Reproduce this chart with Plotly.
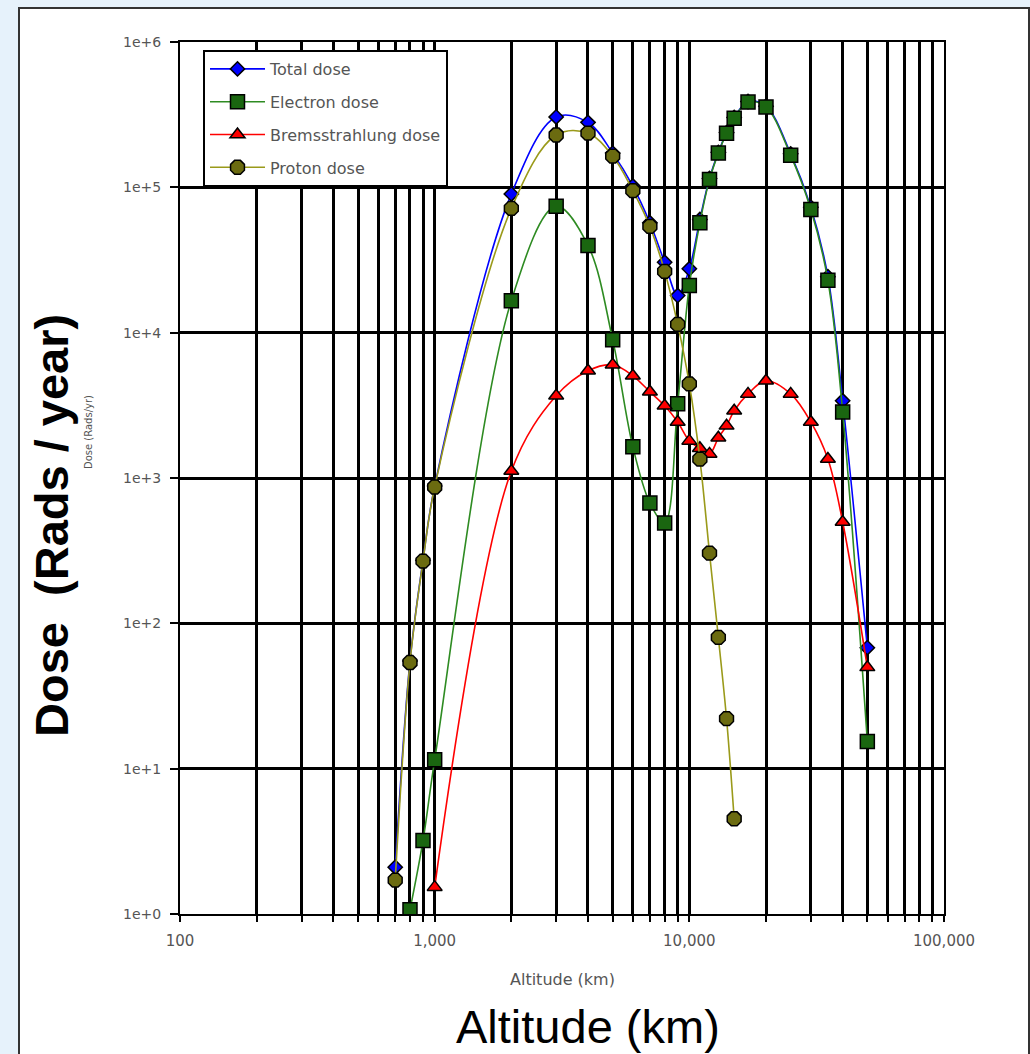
import plotly.graph_objects as go

# ---- data ----
total_x = [700, 800, 900, 1000, 2000, 3000, 4000, 5000, 6000, 7000, 8000, 9000, 10000,
           11000, 12000, 13000, 14000, 15000, 17000, 20000, 25000, 30000, 35000, 40000, 50000]
total_y = [2.1, 55, 272, 880, 90000, 305000, 280000, 172000, 102000, 57000, 30500, 18000, 27500,
           60000, 115000, 174000, 238000, 302000, 390000, 362000, 170000, 73000, 24300, 3400, 68]

electron_x = [800, 900, 1000, 2000, 3000, 4000, 5000, 6000, 7000, 8000, 9000, 10000,
              11000, 12000, 13000, 14000, 15000, 17000, 20000, 25000, 30000, 35000, 40000, 50000]
electron_y = [1.07, 3.2, 11.5, 16600, 74000, 39800, 8950, 1640, 673, 490, 3240, 21100,
              57000, 113000, 172000, 236000, 299000, 386000, 357000, 166000, 70500, 22900, 2850, 15.4]

brems_x = [1000, 2000, 3000, 4000, 5000, 6000, 7000, 8000, 9000, 10000, 11000, 12000,
           13000, 14000, 15000, 17000, 20000, 25000, 30000, 35000, 40000, 50000]
brems_y = [1.53, 1117, 3680, 5470, 6010, 5050, 3920, 3140, 2430, 1800, 1600, 1465,
           1890, 2285, 2900, 3790, 4670, 3790, 2430, 1350, 498, 49.8]

proton_x = [700, 800, 900, 1000, 2000, 3000, 4000, 5000, 6000, 7000, 8000, 9000, 10000,
            11000, 12000, 13000, 14000, 15000]
proton_y = [1.71, 53.8, 268, 867, 71600, 229000, 236000, 164000, 95000, 53900, 26400, 11400, 4440,
            1350, 304, 80, 22.1, 4.52]

x_tick_vals = [k * 10 ** n for n in (2, 3, 4) for k in range(1, 10)] + [100000]
x_tick_text = ["100" if v == 100 else "1,000" if v == 1000 else "10,000" if v == 10000
               else "100,000" if v == 100000 else "" for v in x_tick_vals]
y_tick_vals = [1, 10, 100, 1000, 10000, 100000, 1000000]
y_tick_text = ["1e+0", "1e+1", "1e+2", "1e+3", "1e+4", "1e+5", "1e+6"]

FONT = "Liberation Sans, Arial, sans-serif"
SMALL = "DejaVu Sans, Verdana, sans-serif"

fig = go.Figure()

def add(name, xs, ys, lcol, mcol, sym, size, grp):
    fig.add_trace(go.Scatter(
        x=xs, y=ys, name=name, mode="lines+markers", legendgroup=grp,
        line=dict(color=lcol, width=1.6, shape="spline", smoothing=1.0),
        marker=dict(symbol=sym, size=size, color=mcol, line=dict(color="black", width=1.5)),
    ))

add("Total dose", total_x, total_y, "#0000ff", "#0000ff", "diamond", 11, "a")
add("Electron dose", electron_x, electron_y, "#2e8b22", "#1a6610", "square", 14, "b")
add("Bremsstrahlung dose", brems_x, brems_y, "#ff0000", "#ff0000", "triangle-up", 13, "c")
add("Proton dose", proton_x, proton_y, "#9a9a1a", "#6b6b10", "octagon", 15, "d")

L, R, T, B = 180, 944, 42, 914
PW, PH = R - L, B - T

def px(p):
    return (p - L) / PW

def py(p):
    return (B - p) / PH

fig.update_layout(
    width=1030, height=1054,
    margin=dict(l=L, r=1030 - R, t=T, b=1054 - B, autoexpand=False),
    paper_bgcolor="#e6f2fb",
    plot_bgcolor="white",
    font=dict(family=SMALL, color="#555555", size=12),
    showlegend=True,
    legend=dict(
        x=px(203), y=py(50), xanchor="left", yanchor="top",
        bgcolor="white", bordercolor="black", borderwidth=2,
        font=dict(size=16, color="#555555", family=SMALL),
        traceorder="grouped", tracegroupgap=9, itemwidth=55,
    ),
    xaxis=dict(
        type="log", range=[2, 5], tickvals=x_tick_vals, ticktext=x_tick_text,
        showgrid=True, gridcolor="black", gridwidth=2.5,
        showline=True, linecolor="black", linewidth=2, mirror=True,
        ticks="outside", ticklen=6, tickcolor="black", tickwidth=2,
        tickfont=dict(size=15, color="#555555", family=SMALL), ticklabelstandoff=6,
        zeroline=False,
    ),
    yaxis=dict(
        type="log", range=[0, 6], tickvals=y_tick_vals, ticktext=y_tick_text,
        showgrid=True, gridcolor="black", gridwidth=2.5,
        showline=True, linecolor="black", linewidth=2, mirror=True,
        ticks="outside", ticklen=8, tickcolor="black", tickwidth=2,
        tickfont=dict(size=14, color="#555555", family=SMALL), ticklabelstandoff=6,
        zeroline=False,
    ),
    shapes=[dict(
        type="rect", xref="paper", yref="paper", layer="below",
        x0=px(19), x1=px(1029), y0=py(1070), y1=py(8),
        fillcolor="white", line=dict(color="#333333", width=2),
    )],
    annotations=[
        dict(text="Altitude (km)", xref="paper", yref="paper", x=px(562), y=py(979),
             showarrow=False, font=dict(size=16, color="#555555", family=SMALL),
             xanchor="center", yanchor="middle"),
        dict(text="Altitude (km)", xref="paper", yref="paper", x=px(588), y=py(1026),
             showarrow=False, font=dict(size=47, color="black", family=FONT),
             xanchor="center", yanchor="middle"),
        dict(text="<b>Dose  (Rads / year)</b>", xref="paper", yref="paper", x=px(51), y=py(526),
             showarrow=False, textangle=-90, font=dict(size=47, color="black", family=FONT),
             xanchor="center", yanchor="middle"),
        dict(text="Dose (Rads/yr)", xref="paper", yref="paper", x=px(88), y=py(432),
             showarrow=False, textangle=-90, font=dict(size=10, color="#555555", family=SMALL),
             xanchor="center", yanchor="middle"),
    ],
)

fig.write_html(
    "out.html",
    config={"displayModeBar": False},
    post_script="document.body.style.margin='0';document.body.style.background='#e6f2fb';",
)
